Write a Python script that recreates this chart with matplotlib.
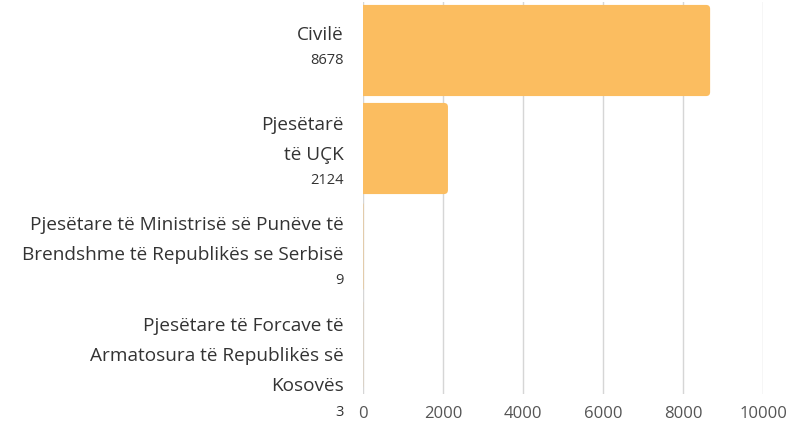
import matplotlib.pyplot as plt
from matplotlib.patches import FancyBboxPatch
from matplotlib.transforms import blended_transform_factory

# data
category_lines = [
    ["Civilë"],
    ["Pjesëtarë", "të UÇK"],
    ["Pjesëtare të Ministrisë së Punëve të", "Brendshme të Republikës se Serbisë"],
    ["Pjesëtare të Forcave të", "Armatosura të Republikës së", "Kosovës"],
]
values = [8678, 2124, 9, 3]
x_ticks = [0, 2000, 4000, 6000, 8000, 10000]

# layout of the label blocks (pixel offsets from the bar centre)
first_line_dy = [-15.5, -23.5, -21.5, -18.5]
line_step = 30
number_step = 26

bar_color = "#FBBD60"
text_color = "#333333"

fig = plt.figure(figsize=(7.92, 4.21), dpi=100)
ax = fig.add_axes([363 / 792, 1 - 393.5 / 421, 400 / 792, 392 / 421])

ys = list(range(len(values)))
bars = ax.barh(ys, values, height=0.93, color=bar_color, zorder=2)
ax.set_ylim(len(values) - 0.5, -0.5)
ax.set_xlim(0, 10000)

# rounded right ends: redraw each bar as a rounded box that starts left of the axis
px_x = 10000 / 400
px_y = len(values) / 392
for b in bars:
    b.set_visible(False)
    x0, y0, w, h = b.get_x(), b.get_y(), b.get_width(), b.get_height()
    ax.add_patch(FancyBboxPatch((x0 - 8 * px_x, y0), w + 8 * px_x, h,
                                boxstyle=f"round,pad=0,rounding_size={4 * px_x}",
                                mutation_aspect=px_y / px_x,
                                facecolor=bar_color, edgecolor="none", zorder=2))

ax.set_xticks(x_ticks)
ax.set_xticklabels([str(t) for t in x_ticks], family="Open Sans",
                   fontsize=12, color="#555555")
ax.tick_params(axis="x", length=0, pad=9)
ax.set_yticks([])
ax.grid(axis="x", color="#d6d6d6", linewidth=1, zorder=0)
for s in ax.spines.values():
    s.set_visible(False)

trans = blended_transform_factory(ax.transAxes, ax.transData)
for y, lines, v, dy in zip(ys, category_lines, values, first_line_dy):
    for i, line in enumerate(lines):
        ax.annotate(line, xy=(0, y), xycoords=trans,
                    xytext=(-19, -(dy + i * line_step)), textcoords="offset pixels",
                    ha="right", va="center", fontsize=13.7, family="Open Sans",
                    color=text_color, annotation_clip=False)
    ndy = dy + (len(lines) - 1) * line_step + number_step
    ax.annotate(str(v), xy=(0, y), xycoords=trans,
                xytext=(-19, -ndy), textcoords="offset pixels",
                ha="right", va="center", fontsize=10.5, family="Open Sans",
                color=text_color, annotation_clip=False)

fig.savefig("out.png", dpi=100)
